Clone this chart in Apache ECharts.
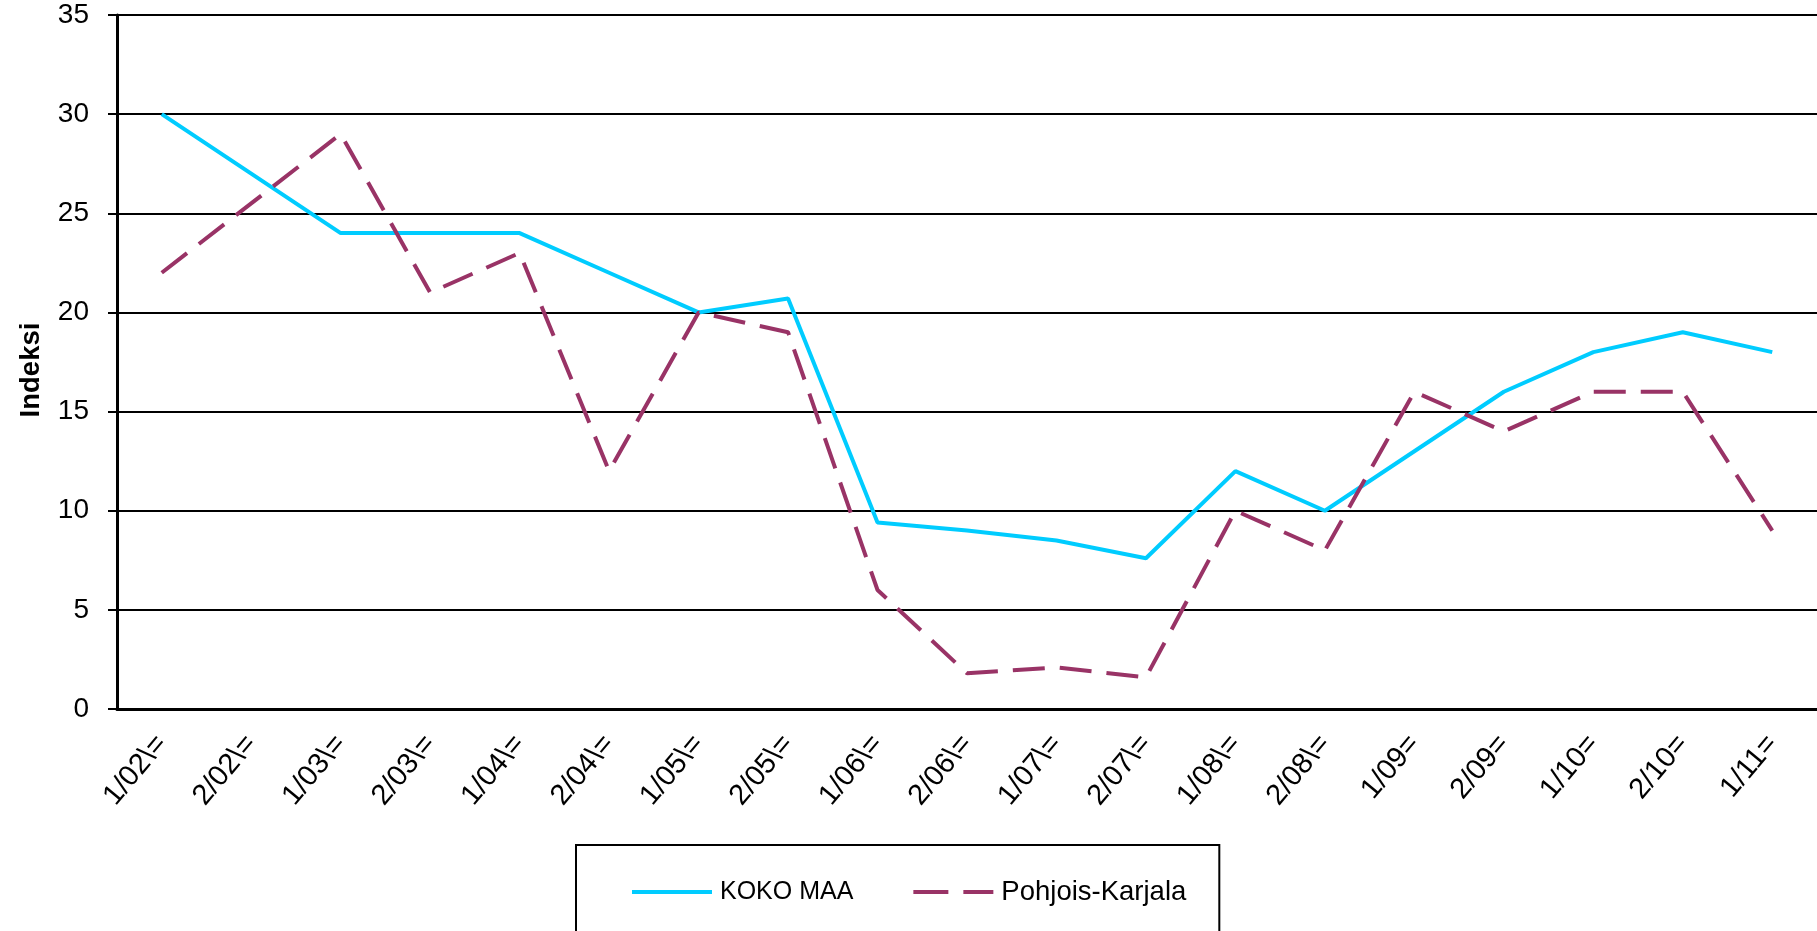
<!DOCTYPE html>
<html>
<head>
<meta charset="utf-8">
<script src="https://cdn.jsdelivr.net/npm/echarts@6/dist/echarts.min.js"></script>
<style>
  html, body { margin: 0; padding: 0; background: #fff; }
  #chart { width: 1817px; height: 931px; }
</style>
</head>
<body>
<div id="chart"></div>
<script>
// periods (half-year), as printed on the x axis
var periods = ['1/02\\=', '2/02\\=', '1/03\\=', '2/03\\=', '1/04\\=', '2/04\\=',
               '1/05\\=', '2/05\\=', '1/06\\=', '2/06\\=', '1/07\\=', '2/07\\=',
               '1/08\\=', '2/08\\=', '1/09=', '2/09=', '1/10=', '2/10=', '1/11='];

var kokoMaa = [30, 27, 24, 24, 24, 22, 20, 20.7, 9.4, 9.0, 8.5, 7.6,
               12, 10, 13, 16, 18, 19, 18];

var pohjoisKarjala = [22, 25.5, 29, 21, 23, 12, 20, 19, 6, 1.8, 2.1, 1.6,
                      10, 8, 16, 14, 16, 16, 9];

var yTicks = { min: 0, max: 35, interval: 5 };

(function () {
    var font = '"Liberation Sans", Arial, sans-serif';
    var BLUE = '#00CCFF', PURPLE = '#993366';
    var chart = echarts.init(document.getElementById('chart'), null, { renderer: 'canvas' });

    chart.setOption({
        animation: false,
        backgroundColor: '#fff',
        grid: { left: 117, right: 0, top: 15, bottom: 222 },
        legend: {
            left: 576,
            top: 845,
            padding: [33, 33, 60, 56],
            itemWidth: 80,
            itemHeight: 4,
            itemGap: 60,
            borderColor: '#000',
            borderWidth: 2,
            textStyle: { fontFamily: font, fontSize: 25, color: '#000', padding: [0, 0, 0, 3] },
            data: [
                { name: 'KOKO MAA', icon: 'path://M0,0H80V4H0Z', itemStyle: { color: BLUE } },
                { name: 'Pohjois-Karjala', icon: 'path://M0,0H35V4H0ZM50,0H80V4H50Z', itemStyle: { color: PURPLE },
                  textStyle: { fontSize: 27.5 } }
            ]
        },
        xAxis: {
            type: 'category',
            data: periods,
            boundaryGap: true,
            axisLine: { lineStyle: { color: '#000', width: 3 } },
            axisTick: { show: false },
            axisLabel: {
                rotate: 50,
                margin: 30,
                interval: 0,
                color: '#000',
                fontFamily: font,
                fontSize: 29
            }
        },
        yAxis: {
            type: 'value',
            min: yTicks.min,
            max: yTicks.max,
            interval: yTicks.interval,
            name: 'Indeksi',
            nameLocation: 'middle',
            nameGap: 72,
            nameTextStyle: { fontFamily: font, fontSize: 27.5, fontWeight: 'bold', color: '#000', padding: [0, 16, 0, 0] },
            axisLine: { show: true, lineStyle: { color: '#000', width: 3 } },
            axisTick: { show: true, length: 9, lineStyle: { color: '#000', width: 2 } },
            axisLabel: { color: '#000', fontFamily: font, fontSize: 28, margin: 28 },
            splitLine: { lineStyle: { color: '#000', width: 2 } }
        },
        series: [
            {
                name: 'KOKO MAA',
                type: 'line',
                data: kokoMaa,
                showSymbol: false,
                symbol: 'none',
                lineStyle: { color: BLUE, width: 4 },
                itemStyle: { color: BLUE }
            },
            {
                name: 'Pohjois-Karjala',
                type: 'line',
                data: pohjoisKarjala,
                showSymbol: false,
                symbol: 'none',
                lineStyle: { color: PURPLE, width: 4, type: [32, 15] },
                itemStyle: { color: PURPLE }
            }
        ]
    });
})();
</script>
</body>
</html>
